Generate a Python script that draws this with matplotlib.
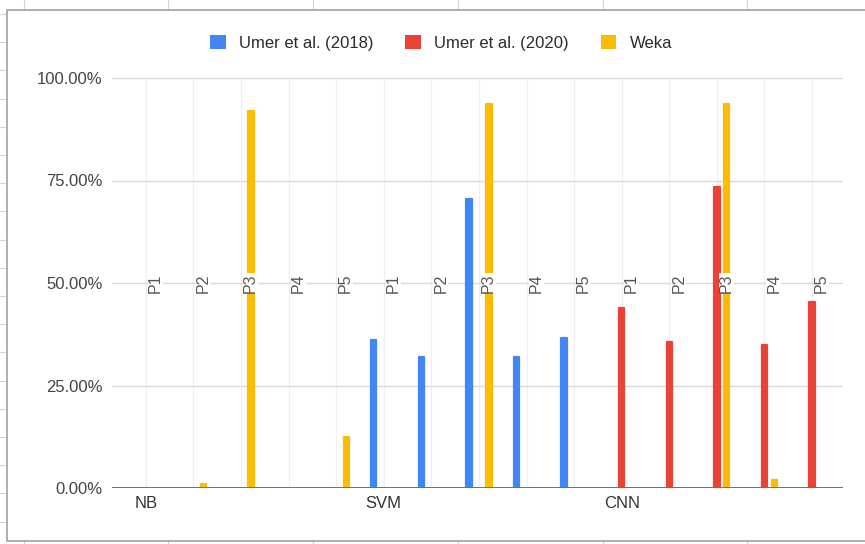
import numpy as np
import matplotlib
matplotlib.use('Agg')
import matplotlib.pyplot as plt
from matplotlib.patches import Patch, Rectangle
from matplotlib.lines import Line2D

plt.rcParams['font.family'] = ['Liberation Sans', 'DejaVu Sans']

groups = ['NB', 'SVM', 'CNN']
params = ['P1', 'P2', 'P3', 'P4', 'P5']

# accuracy per (classifier, parameter set), in percent
umer2018 = [0, 0, 0, 0, 0, 36.0, 32.0, 70.5, 32.0, 36.7, 0, 0, 0, 0, 0]
umer2020 = [0, 0, 0, 0, 0, 0, 0, 0, 0, 0, 44.0, 35.5, 73.3, 35.0, 45.3]
weka = [0, 1.0, 92.0, 0, 12.5, 0, 0, 93.6, 0, 0, 0, 0, 93.6, 2.0, 0]

series_names = ['Umer et al. (2018)', 'Umer et al. (2020)', 'Weka']
colors = ['#4285F4', '#EA4335', '#FBBC04']

W, H = 865, 544
fig = plt.figure(figsize=(W / 100, H / 100), dpi=100, facecolor='white')

# spreadsheet cells behind the chart
for x in [24, 168, 313, 458, 603, 747]:
    fig.add_artist(Line2D([x / W, x / W], [0, 1], color='#d4d4d4', lw=0.8, zorder=-3))
for k in range(20):
    y = 14 + 28.2 * k
    fig.add_artist(Line2D([0, 1], [1 - y / H, 1 - y / H], color='#d4d4d4', lw=0.8, zorder=-3))

# chart frame (right edge runs off the sheet)
fig.add_artist(Rectangle((7.5 / W, 1 - 540.5 / H), 1.2, (540.5 - 9.5) / H,
                         facecolor='white', edgecolor='#a0a0a0', lw=1.2, zorder=-1))

ax = fig.add_axes([112 / W, 1 - 488 / H, (843 - 112) / W, (488 - 78) / H])
ax.set_facecolor('none')

n = len(groups) * len(params)
x = np.arange(n)
offsets = [-0.21, 0.0, 0.21]
for vals, off, c, name in zip([umer2018, umer2020, weka], offsets, colors, series_names):
    vals = np.array(vals)
    keep = vals > 0
    ax.bar(x[keep] + off, vals[keep], width=0.11, color=c, edgecolor=c, linewidth=1.6,
           joinstyle='round', label=name, zorder=3)

ax.set_xlim(-0.71, 14.65)
ax.set_ylim(0, 100)

# grid
for v in [25, 50, 75, 100]:
    ax.axhline(v, color='#d9d9d9', lw=1.0, zorder=1)
ax.axhline(0, color='#707070', lw=1.4, zorder=4)
for xi in x:
    ax.axvline(xi, color='#f0f0f0', lw=1.0, zorder=0)

# parameter labels, drawn across the middle of the plot
for i in range(n):
    ax.text(i + 0.2, 50, params[i % len(params)], rotation=90, ha='center', va='center',
            fontsize=11.5, color='#555555', zorder=5,
            bbox=dict(boxstyle='square,pad=0.0', facecolor='white', edgecolor='none'))

ax.set_yticks([0, 25, 50, 75, 100])
ax.set_yticklabels(['%.2f%%' % v for v in [0, 25, 50, 75, 100]])
ax.set_xticks([0, 5, 10])
ax.set_xticklabels(groups)
ax.tick_params(axis='y', length=0, pad=7, labelsize=12, labelcolor='#444444')
ax.tick_params(axis='x', length=0, pad=6, labelsize=12, labelcolor='#333333')
for s in ax.spines.values():
    s.set_visible(False)

handles = [Patch(facecolor=c, edgecolor='none') for c in colors]
fig.legend(handles, series_names, loc='center', bbox_to_anchor=(441 / W, 1 - 43 / H),
           ncol=3, frameon=False, fontsize=12, handlelength=0.95, handleheight=0.95,
           handletextpad=0.8, columnspacing=1.9, labelcolor='#2b2b2b')

fig.savefig('out.png', dpi=100, facecolor='white')
